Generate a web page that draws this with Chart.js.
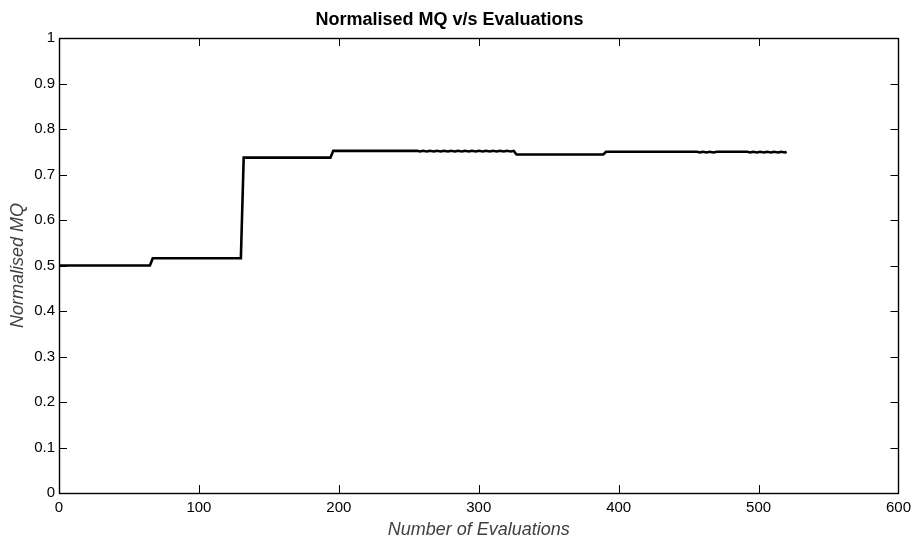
<!DOCTYPE html>
<html>
<head>
<meta charset="utf-8">
<script src="https://cdn.jsdelivr.net/npm/chart.js@4/dist/chart.umd.min.js"></script>
<style>
html,body{margin:0;padding:0;background:#fff;}
#wrap{width:917px;height:541px;position:relative;}
</style>
</head>
<body>
<div id="wrap"><canvas id="c" width="917" height="541"></canvas></div>
<script>
// Data
const evaluations = [0, 65, 67, 130, 132, 194, 196, 256,
  258, 260, 263, 265, 268, 270, 273, 275, 278, 280, 283, 285, 288, 290, 293, 295, 298, 300,
  303, 305, 308, 310, 313, 315, 318, 320, 323, 325,
  327, 389, 391, 456, 458, 460, 463, 465, 468, 470, 492,
  494, 496, 499, 501, 504, 506, 509, 511, 514, 516, 519, 520];
const normalisedMQ = [0.500, 0.500, 0.516, 0.516, 0.737, 0.737, 0.752, 0.752,
  0.7505, 0.752, 0.7505, 0.752, 0.7505, 0.752, 0.7505, 0.752, 0.7505, 0.752, 0.7505, 0.752, 0.7505, 0.752, 0.7505, 0.752, 0.7505, 0.752,
  0.7505, 0.752, 0.7505, 0.752, 0.7505, 0.752, 0.7505, 0.752, 0.7505, 0.752,
  0.744, 0.744, 0.750, 0.750, 0.7485, 0.750, 0.7485, 0.750, 0.7485, 0.750, 0.750,
  0.7485, 0.750, 0.7485, 0.750, 0.7485, 0.750, 0.7485, 0.750, 0.7485, 0.750, 0.7485, 0.750];
const xTicks = [0, 100, 200, 300, 400, 500, 600];
const yTicks = [0, 0.1, 0.2, 0.3, 0.4, 0.5, 0.6, 0.7, 0.8, 0.9, 1];
const chartTitle = 'Normalised MQ v/s Evaluations';
const xTitle = 'Number of Evaluations';
const yTitle = 'Normalised MQ';

const points = evaluations.map((x, i) => ({x: x, y: normalisedMQ[i]}));
const FONT = 'Liberation Sans, Arial, sans-serif';

const boxPlugin = {
  id: 'boxTicks',
  afterDatasetsDraw(chart) {
    const {ctx, chartArea: a, scales} = chart;
    const len = 8;
    ctx.save();
    ctx.strokeStyle = '#000';
    ctx.lineWidth = 1;
    ctx.beginPath();
    xTicks.forEach(v => {
      const px = Math.round(scales.x.getPixelForValue(v)) + 0.5;
      ctx.moveTo(px, a.bottom); ctx.lineTo(px, a.bottom - len);
      ctx.moveTo(px, a.top); ctx.lineTo(px, a.top + len);
    });
    yTicks.forEach(v => {
      const py = Math.round(scales.y.getPixelForValue(v)) + 0.5;
      ctx.moveTo(a.left, py); ctx.lineTo(a.left + len, py);
      ctx.moveTo(a.right, py); ctx.lineTo(a.right - len, py);
    });
    ctx.stroke();
    ctx.lineWidth = 1.4;
    ctx.strokeRect(Math.round(a.left) + 0.5, Math.round(a.top) + 0.5,
      Math.round(a.right - a.left), Math.round(a.bottom - a.top));
    ctx.restore();
  }
};

new Chart(document.getElementById('c'), {
  type: 'line',
  data: {
    datasets: [{
      data: points,
      borderColor: '#000',
      borderWidth: 2.6,
      pointRadius: 0,
      tension: 0,
      fill: false
    }]
  },
  options: {
    responsive: false,
    animation: false,
    devicePixelRatio: 1,
    layout: {padding: {left: 0, right: 18, top: 0, bottom: 0}},
    plugins: {
      legend: {display: false},
      tooltip: {enabled: false},
      title: {
        display: true,
        text: chartTitle,
        color: '#000',
        font: {family: FONT, size: 18, weight: 'bold'},
        padding: {top: 9.7, bottom: 6.7}
      }
    },
    scales: {
      x: {
        type: 'linear',
        min: 0, max: 600,
        afterBuildTicks: s => { s.ticks = xTicks.map(v => ({value: v})); },
        afterFit: s => { s.height = 48; },
        grid: {display: false, drawTicks: false},
        border: {display: false},
        ticks: {
          color: '#000',
          padding: 6,
          maxRotation: 0,
          font: {family: FONT, size: 15},
          callback: v => String(v)
        },
        title: {
          display: true,
          text: xTitle,
          color: '#404040',
          padding: {top: 3.7, bottom: 0},
          font: {family: FONT, size: 18, style: 'italic'}
        }
      },
      y: {
        type: 'linear',
        min: 0, max: 1,
        afterBuildTicks: s => { s.ticks = yTicks.map(v => ({value: v})); },
        afterFit: s => { s.width = 59; },
        grid: {display: false, drawTicks: false},
        border: {display: false},
        ticks: {
          color: '#000',
          padding: 4,
          font: {family: FONT, size: 15},
          callback: v => String(+v.toFixed(1))
        },
        title: {
          display: true,
          text: yTitle,
          color: '#404040',
          padding: {top: 7.2, bottom: 0},
          font: {family: FONT, size: 18, style: 'italic'}
        }
      }
    }
  },
  plugins: [boxPlugin]
});
</script>
</body>
</html>
